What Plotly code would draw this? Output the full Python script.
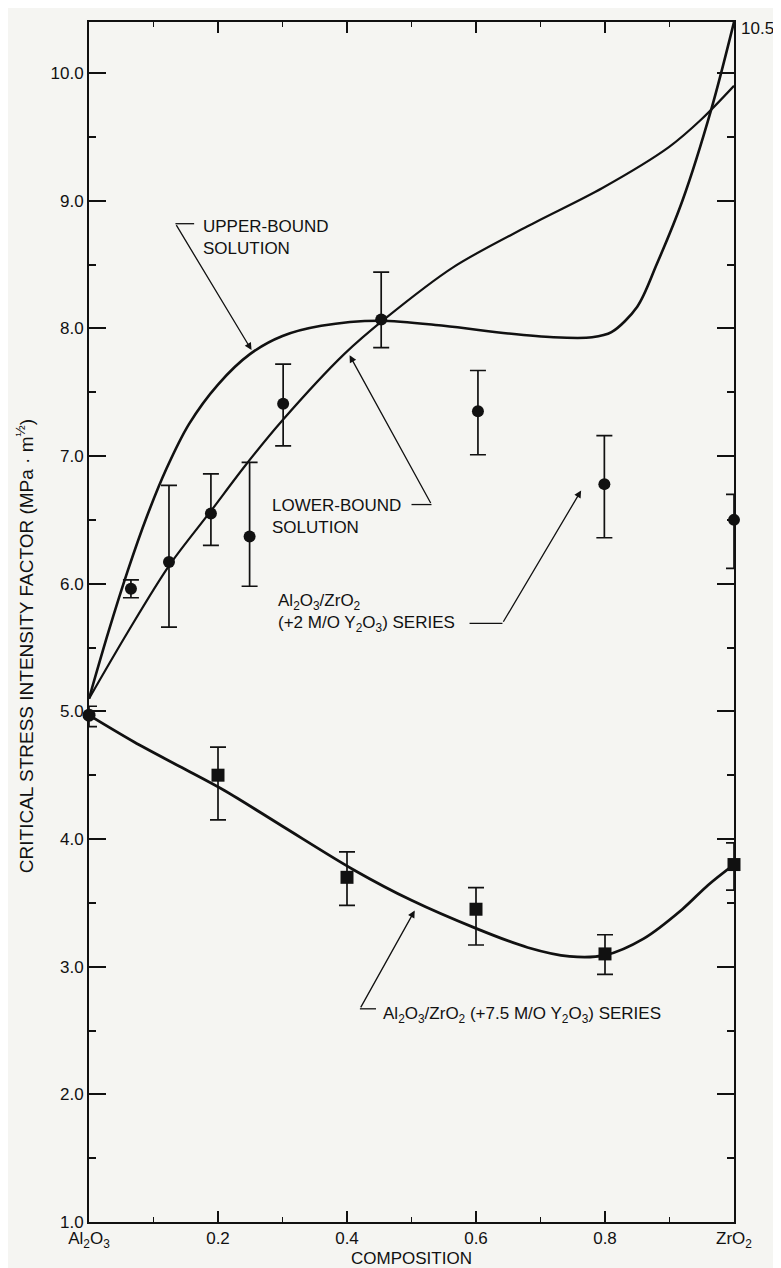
import plotly.graph_objects as go

# ---------------- data ----------------
# Al2O3/ZrO2 (+2 M/O Y2O3) series
comp_2mo = [0.065, 0.124, 0.189, 0.249, 0.301, 0.453, 0.603, 0.799, 1.0]
kic_2mo = [5.96, 6.17, 6.55, 6.37, 7.41, 8.07, 7.35, 6.78, 6.50]
kic_2mo_hi = [6.03, 6.77, 6.86, 6.95, 7.72, 8.44, 7.67, 7.16, 6.70]
kic_2mo_lo = [5.89, 5.66, 6.30, 5.98, 7.08, 7.85, 7.01, 6.36, 6.12]

# Al2O3/ZrO2 (+7.5 M/O Y2O3) series (first point: pure Al2O3)
comp_75mo = [0.0, 0.20, 0.40, 0.60, 0.80, 1.0]
kic_75mo = [4.97, 4.50, 3.70, 3.45, 3.10, 3.80]
kic_75mo_hi = [5.04, 4.72, 3.90, 3.62, 3.25, 3.97]
kic_75mo_lo = [4.88, 4.15, 3.48, 3.17, 2.94, 3.60]
symbols_75mo = ["circle", "square", "square", "square", "square", "square"]

# upper-bound solution curve
ub_x = [0.0, 0.03, 0.06, 0.09, 0.12, 0.155, 0.2, 0.25, 0.30, 0.36, 0.45,
        0.55, 0.65, 0.72, 0.78, 0.81, 0.85, 0.88, 0.92, 0.965, 1.0]
ub_y = [5.10, 5.62, 6.10, 6.53, 6.90, 7.25, 7.56, 7.80, 7.94, 8.02, 8.06,
        8.02, 7.96, 7.93, 7.93, 7.97, 8.17, 8.50, 9.00, 9.72, 10.4]

# lower-bound solution curve
lb_x = [0.0, 0.06, 0.124, 0.189, 0.243, 0.30, 0.396, 0.46, 0.565, 0.68,
        0.796, 0.899, 0.95, 1.0]
lb_y = [5.10, 5.62, 6.14, 6.57, 6.93, 7.28, 7.80, 8.08, 8.48, 8.80,
        9.10, 9.42, 9.64, 9.90]

# fitted curve through the 7.5 M/O series
c75_x = [0.0, 0.07, 0.14, 0.21, 0.30, 0.41, 0.50, 0.60, 0.68, 0.745,
         0.80, 0.86, 0.92, 0.96, 1.0]
c75_y = [4.97, 4.76, 4.57, 4.38, 4.10, 3.76, 3.52, 3.30, 3.15, 3.08,
         3.09, 3.22, 3.45, 3.64, 3.80]

x_tickvals = [0.0, 0.2, 0.4, 0.6, 0.8, 1.0]
x_ticktext = ["Al<sub>2</sub>O<sub>3</sub>", "0.2", "0.4", "0.6", "0.8",
              "ZrO<sub>2</sub>"]
y_tickvals = [1, 2, 3, 4, 5, 6, 7, 8, 9, 10]
y_ticktext = ["1.0", "2.0", "3.0", "4.0", "5.0", "6.0", "7.0", "8.0", "9.0", "10.0"]

# ---------------- figure ----------------
INK = "#111111"
BG = "#f5f5f2"
FONT = "Liberation Sans, Arial, sans-serif"

fig = go.Figure()

fig.add_trace(go.Scatter(x=ub_x, y=ub_y, mode="lines",
                         line=dict(color=INK, width=2.6, shape="spline", smoothing=0.9),
                         cliponaxis=False, hoverinfo="skip"))
fig.add_trace(go.Scatter(x=lb_x, y=lb_y, mode="lines",
                         line=dict(color=INK, width=2.2, shape="spline", smoothing=0.9),
                         cliponaxis=False, hoverinfo="skip"))
fig.add_trace(go.Scatter(x=c75_x, y=c75_y, mode="lines",
                         line=dict(color=INK, width=2.8, shape="spline", smoothing=0.9),
                         cliponaxis=False, hoverinfo="skip"))

fig.add_trace(go.Scatter(
    x=comp_2mo, y=kic_2mo, mode="markers",
    marker=dict(symbol="circle", size=12, color=INK),
    error_y=dict(type="data", symmetric=False,
                 array=[h - v for h, v in zip(kic_2mo_hi, kic_2mo)],
                 arrayminus=[v - l for v, l in zip(kic_2mo, kic_2mo_lo)],
                 color=INK, thickness=1.7, width=8),
    cliponaxis=False))

fig.add_trace(go.Scatter(
    x=comp_75mo, y=kic_75mo, mode="markers",
    marker=dict(symbol=symbols_75mo, size=13, color=INK),
    error_y=dict(type="data", symmetric=False,
                 array=[h - v for h, v in zip(kic_75mo_hi, kic_75mo)],
                 arrayminus=[v - l for v, l in zip(kic_75mo, kic_75mo_lo)],
                 color=INK, thickness=1.7, width=8),
    cliponaxis=False))

TXT = dict(family=FONT, size=17, color=INK)
ARW = dict(xref="x", yref="y", axref="x", ayref="y", showarrow=True,
           arrowhead=2, arrowsize=1.1, arrowwidth=1.3, arrowcolor=INK, text="")

annotations = [
    # leader arrows (tip at x,y ; tail at ax,ay)
    dict(x=0.252, y=7.83, ax=0.134, ay=8.82, **ARW),
    dict(x=0.404, y=7.79, ax=0.531, ay=6.62, **ARW),
    dict(x=0.763, y=6.73, ax=0.641, ay=5.69, **ARW),
    dict(x=0.505, y=3.44, ax=0.420, ay=2.67, **ARW),
    # labels
    dict(x=0.173, y=8.71, xref="x", yref="y", xanchor="left", yanchor="middle",
         align="left", showarrow=False, font=TXT,
         text="UPPER-BOUND<br>SOLUTION"),
    dict(x=0.28, y=6.53, xref="x", yref="y", xanchor="left", yanchor="middle",
         align="left", showarrow=False, font=TXT,
         text="LOWER-BOUND<br>SOLUTION"),
    dict(x=0.29, y=5.77, xref="x", yref="y", xanchor="left", yanchor="middle",
         align="left", showarrow=False, font=TXT,
         text="Al<sub>2</sub>O<sub>3</sub>/ZrO<sub>2</sub><br>"
              "(+2 M/O Y<sub>2</sub>O<sub>3</sub>) SERIES"),
    dict(x=0.453, y=2.62, xref="x", yref="y", xanchor="left", yanchor="middle",
         align="left", showarrow=False, font=TXT,
         text="Al<sub>2</sub>O<sub>3</sub>/ZrO<sub>2</sub> (+7.5 M/O Y<sub>2</sub>O<sub>3</sub>) SERIES"),
    dict(x=1.0, y=1.0, xref="paper", yref="paper", xanchor="left", yanchor="middle",
         xshift=5, yshift=-6, showarrow=False, font=TXT, text="10.5"),
    # y-axis title
    dict(x=-0.099, y=0.48, xref="paper", yref="paper", xanchor="center", yanchor="middle",
         textangle=-90, showarrow=False, font=dict(family=FONT, size=19, color=INK),
         text="CRITICAL STRESS INTENSITY FACTOR (MPa · m<sup>½</sup>)"),
]

shapes = [
    dict(type="line", xref="x", yref="y", x0=0.134, y0=8.82, x1=0.163, y1=8.82,
         line=dict(color=INK, width=1.3)),
    dict(type="line", xref="x", yref="y", x0=0.500, y0=6.62, x1=0.531, y1=6.62,
         line=dict(color=INK, width=1.3)),
    dict(type="line", xref="x", yref="y", x0=0.590, y0=5.69, x1=0.641, y1=5.69,
         line=dict(color=INK, width=1.3)),
    dict(type="line", xref="x", yref="y", x0=0.420, y0=2.67, x1=0.445, y1=2.67,
         line=dict(color=INK, width=1.3)),
]

fig.update_layout(
    width=781, height=1268,
    margin=dict(l=81, r=55, t=14, b=54),
    paper_bgcolor=BG, plot_bgcolor=BG,
    showlegend=False,
    font=TXT,
    annotations=annotations,
    shapes=shapes,
    xaxis=dict(range=[0, 1], tickvals=x_tickvals, ticktext=x_ticktext,
               ticks="inside", ticklen=11, tickwidth=1.6, tickcolor=INK,
               minor=dict(dtick=0.1, tick0=0, ticks="inside", ticklen=5,
                          tickwidth=1.4, tickcolor=INK),
               showline=True, linewidth=2, linecolor=INK, mirror="allticks",
               showgrid=False, zeroline=False,
               tickfont=dict(family=FONT, size=17, color=INK),
               title=dict(text="COMPOSITION", standoff=2,
                          font=dict(family=FONT, size=17, color=INK))),
    yaxis=dict(range=[1, 10.4], tickvals=y_tickvals, ticktext=y_ticktext,
               ticks="inside", ticklen=17, tickwidth=2, tickcolor=INK,
               minor=dict(dtick=0.5, tick0=0, ticks="inside", ticklen=7,
                          tickwidth=1.6, tickcolor=INK),
               showline=True, linewidth=2, linecolor=INK, mirror="allticks",
               showgrid=False, zeroline=False,
               tickfont=dict(family=FONT, size=17, color=INK)),
)

fig.write_html("out.html")
